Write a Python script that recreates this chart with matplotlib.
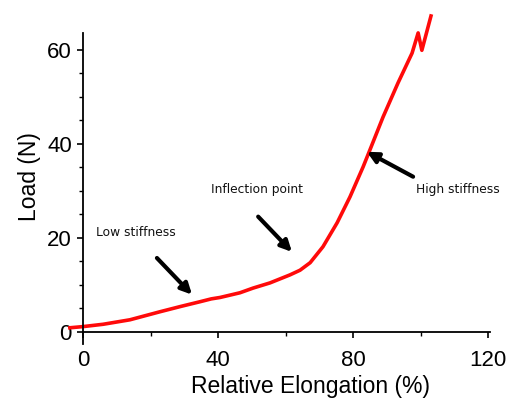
import numpy as np
import matplotlib.pyplot as plt
from matplotlib.ticker import FixedLocator

plt.rcParams['font.family'] = ['Liberation Sans', 'DejaVu Sans']

# 读取的曲线数据：相对伸长 (%) 与载荷 (N)
elongation = [-3.9, 0.0, 6.0, 13.9, 22.8, 29.0, 34.7, 38.0, 40.6, 46.5,
              50.4, 55.4, 61.3, 64.3, 67.3, 71.1, 75.3, 79.1, 83.0, 84.4,
              88.9, 93.3, 97.5, 99.3, 100.4, 103.1]
load = [0.85, 1.1, 1.6, 2.55, 4.26, 5.4, 6.4, 7.0, 7.3, 8.3,
        9.3, 10.4, 12.1, 13.1, 14.7, 18.1, 23.2, 28.7, 35.1, 37.6,
        45.7, 52.9, 59.3, 63.6, 59.9, 67.2]

# 注释文字与箭头 (文字位置, 箭头尾, 箭头尖)
labels = ['Low stiffness', 'Inflection point', 'High stiffness']
label_pos = [(3.9, 21.1), (37.8, 30.2), (98.7, 30.2)]
arrow_tail = [(21.9, 15.7), (51.9, 24.5), (97.8, 33.0)]
arrow_tip = [(32.3, 7.9), (61.9, 17.0), (84.1, 38.3)]

fig = plt.figure(figsize=(5.15, 4.05), dpi=100)
ax = fig.add_axes([0.135, 0.146, 0.865, 0.847])

ax.plot(elongation, load, color='#ff0a0a', linewidth=2.6, clip_on=False,
        solid_joinstyle='round')

for txt, pos, tail, tip in zip(labels, label_pos, arrow_tail, arrow_tip):
    ax.text(pos[0], pos[1], txt, fontsize=8.8, ha='left', va='center',
            family='DejaVu Sans', color='#111111')
    ax.annotate('', xy=tip, xytext=tail,
                arrowprops=dict(arrowstyle='-|>', color='black', lw=3,
                                mutation_scale=16, shrinkA=0, shrinkB=0))

ax.set_xlim(-4, 128)
ax.set_ylim(-3, 70)

ax.spines['top'].set_visible(False)
ax.spines['right'].set_visible(False)
ax.spines['bottom'].set_position(('data', 0))
ax.spines['bottom'].set_bounds(0, 120.5)
ax.spines['left'].set_position(('data', 0))
ax.spines['left'].set_bounds(-2.5, 63.6)
ax.spines['bottom'].set_linewidth(1.3)
ax.spines['left'].set_linewidth(1.3)

ax.set_xticks([0, 40, 80, 120])
ax.xaxis.set_minor_locator(FixedLocator([20, 60, 100]))
ax.set_yticks([0, 20, 40, 60])
ax.yaxis.set_minor_locator(FixedLocator([5, 10, 15, 25, 30, 35, 45, 50, 55]))
ax.tick_params(axis='both', which='major', labelsize=16, length=4, width=1.2)
ax.tick_params(axis='x', which='major', pad=9)
ax.tick_params(axis='y', which='major', pad=4)
ax.tick_params(axis='both', which='minor', length=3, width=1)

ax.set_xlabel('Relative Elongation (%)', fontsize=16.5)
ax.xaxis.set_label_coords(0.54, -0.085)
ax.set_ylabel('Load (N)', fontsize=16.5)
ax.yaxis.set_label_coords(-0.064, 0.493)

fig.savefig('out.png', dpi=100)
